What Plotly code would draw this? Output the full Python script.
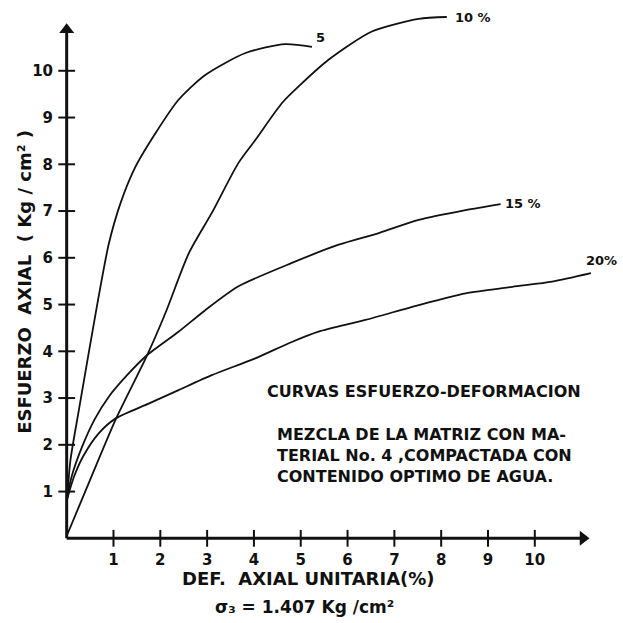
import plotly.graph_objects as go

# Stress-strain curves, compacted mixture, four water contents
def_5 = [0.0, 0.08, 0.26, 0.47, 0.67, 0.9, 1.15, 1.47, 1.9, 2.39, 2.96, 3.82, 4.67, 5.24]
esf_5 = [0.7, 1.67, 2.74, 3.96, 5.1, 6.3, 7.17, 7.95, 8.67, 9.38, 9.91, 10.38, 10.57, 10.51]

def_10 = [0.0, 0.5, 1.04, 1.72, 2.11, 2.61, 3.1, 3.67, 4.03, 4.6, 4.96, 5.6, 6.52, 7.52, 8.12]
esf_10 = [0.05, 1.25, 2.53, 3.92, 4.82, 6.1, 6.96, 8.03, 8.52, 9.31, 9.67, 10.24, 10.84, 11.11, 11.15]

def_15 = [0.0, 0.1, 0.33, 0.6, 0.9, 1.3, 1.72, 2.39, 2.96, 3.67, 4.81, 5.81, 6.67, 7.52, 8.52, 9.27]
esf_15 = [0.8, 1.3, 1.96, 2.55, 3.03, 3.5, 3.92, 4.42, 4.88, 5.39, 5.89, 6.28, 6.53, 6.81, 7.02, 7.15]

def_20 = [0.0, 0.15, 0.35, 0.68, 1.04, 1.75, 2.39, 3.1, 4.03, 4.81, 5.38, 6.38, 7.52, 8.52, 9.52, 10.37, 11.2]
esf_20 = [0.8, 1.3, 1.75, 2.24, 2.56, 2.88, 3.17, 3.49, 3.85, 4.2, 4.42, 4.67, 4.99, 5.24, 5.38, 5.49, 5.67]

curve_names = ["5", "10 %", "15 %", "20%"]
x_ticks = [1, 2, 3, 4, 5, 6, 7, 8, 9, 10]
y_ticks = [1, 2, 3, 4, 5, 6, 7, 8, 9, 10]
x_axis_end = 11.15
y_axis_end = 11.0

INK = "#111111"
FONT = "DejaVu Sans"

series = [(def_5, esf_5), (def_10, esf_10), (def_15, esf_15), (def_20, esf_20)]
# label offsets (pixels) from each curve's last point
label_offsets = [(2, 9), (6, 0), (2, 1), (-7, 13)]

fig = go.Figure()

for (xs, ys) in series:
    fig.add_trace(go.Scatter(
        x=xs, y=ys, mode="lines",
        line=dict(color=INK, width=1.8, shape="spline", smoothing=0.7),
        hoverinfo="skip", showlegend=False,
    ))

# axis lines with arrow heads at their far ends
fig.add_trace(go.Scatter(
    x=[0, x_axis_end - 0.1], y=[0, 0], mode="lines",
    line=dict(color=INK, width=3), hoverinfo="skip", showlegend=False,
))
fig.add_trace(go.Scatter(
    x=[0, 0], y=[0, y_axis_end - 0.1], mode="lines",
    line=dict(color=INK, width=3), hoverinfo="skip", showlegend=False,
))
fig.add_trace(go.Scatter(
    x=[x_axis_end - 0.12], y=[0], mode="markers",
    marker=dict(symbol="triangle-right", size=13, color=INK),
    cliponaxis=False, hoverinfo="skip", showlegend=False,
))
fig.add_trace(go.Scatter(
    x=[0], y=[y_axis_end - 0.12], mode="markers",
    marker=dict(symbol="triangle-up", size=13, color=INK),
    cliponaxis=False, hoverinfo="skip", showlegend=False,
))

# crossing tick marks on both axes
fig.add_trace(go.Scatter(
    x=x_ticks, y=[0] * len(x_ticks), mode="markers",
    marker=dict(symbol="line-ns", size=12, line=dict(color=INK, width=2)),
    cliponaxis=False, hoverinfo="skip", showlegend=False,
))
fig.add_trace(go.Scatter(
    x=[0] * len(y_ticks), y=y_ticks, mode="markers",
    marker=dict(symbol="line-ew", size=12, line=dict(color=INK, width=2)),
    cliponaxis=False, hoverinfo="skip", showlegend=False,
))

annotations = []

# curve labels at the end of each curve
for name, (xs, ys), (dx, dy) in zip(curve_names, series, label_offsets):
    annotations.append(dict(x=xs[-1], y=ys[-1], xref="x", yref="y", text=name, showarrow=False,
                            xanchor="left", yanchor="middle", xshift=dx, yshift=dy,
                            font=dict(family=FONT, size=13, color=INK, weight="bold")))

bold16 = dict(family=FONT, size=16, color=INK, weight="bold")
bold17 = dict(family=FONT, size=17, color=INK, weight="bold")
bold18 = dict(family=FONT, size=18, color=INK, weight="bold")

annotations.append(dict(x=4.23, y=3.14, xref="x", yref="y", text="CURVAS ESFUERZO-DEFORMACION",
                        showarrow=False, xanchor="left", yanchor="middle", font=bold16))
block_text = "<br>".join(["MEZCLA DE LA MATRIZ CON MA-",
                          "TERIAL No. 4 ,COMPACTADA CON",
                          "CONTENIDO OPTIMO DE AGUA."])
annotations.append(dict(x=4.44, y=1.78, xref="x", yref="y", text=block_text, showarrow=False,
                        xanchor="left", yanchor="middle", align="left", font=bold16))

# axis titles (paper coordinates, below / left of the plotting area)
annotations.append(dict(x=0.459, y=-0.066, xref="paper", yref="paper",
                        text="DEF.  AXIAL UNITARIA(%)",
                        showarrow=False, xanchor="center", yanchor="middle", font=bold18))
annotations.append(dict(x=0.453, y=-0.12, xref="paper", yref="paper",
                        text="σ₃ = 1.407 Kg /cm²",
                        showarrow=False, xanchor="center", yanchor="middle", font=bold17))
annotations.append(dict(x=-0.069, y=0.49, xref="paper", yref="paper",
                        text="ESFUERZO  AXIAL  ( Kg / cm² )", textangle=-90,
                        showarrow=False, xanchor="center", yanchor="middle", font=bold18))

fig.update_layout(
    width=623, height=623,
    margin=dict(l=62, r=25, t=10, b=80),
    paper_bgcolor="white", plot_bgcolor="white",
    annotations=annotations,
    xaxis=dict(range=[-0.1, 11.35], showgrid=False, zeroline=False, showline=False,
               tickvals=x_ticks, ticktext=[str(v) for v in x_ticks], ticks="",
               ticklabelstandoff=6,
               tickfont=dict(family=FONT, size=15, color=INK, weight="bold")),
    yaxis=dict(range=[-0.1, 11.3], showgrid=False, zeroline=False, showline=False,
               tickvals=y_ticks, ticktext=[str(v) for v in y_ticks], ticks="",
               ticklabelstandoff=8,
               tickfont=dict(family=FONT, size=15, color=INK, weight="bold")),
)

fig.write_html("out.html")
